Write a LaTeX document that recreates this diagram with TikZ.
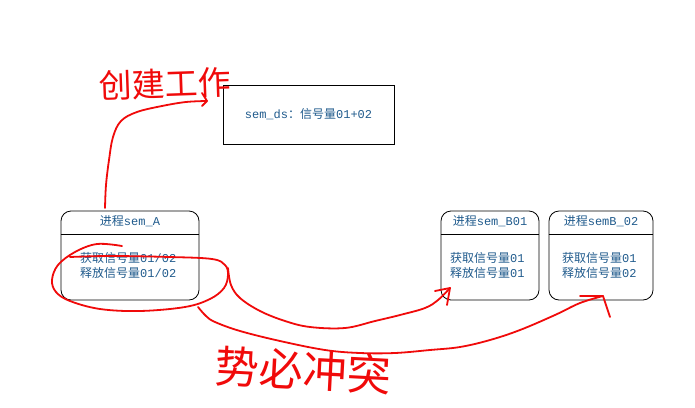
\documentclass[tikz,border=0pt]{standalone}
\usepackage{fontspec}
\setmainfont{Liberation Mono}
\newfontfamily\cjk{Noto Sans CJK SC}
\definecolor{txtblue}{RGB}{31,90,140}
\definecolor{pen}{RGB}{240,10,10}

\begin{document}
\begin{tikzpicture}[x=1pt,y=-1pt,
  procbox/.style={draw,line width=0.8pt,rounded corners=10pt,inner sep=0pt,minimum height=89pt},
  label/.style={text=txtblue,font=\fontsize{12}{15}\selectfont,inner sep=0pt},
  scribble/.style={draw=pen,line width=1.8pt,line cap=round,line join=round},
  handtext/.style={text=pen,inner sep=0pt}]
\useasboundingbox (0,0) rectangle (695,407);
\node[draw,line width=0.8pt,inner sep=0pt,minimum width=171pt,minimum height=59pt] (ds) at (308.5,114.5) {};
\node[label] (dstext) at (ds.center) {sem\_ds{\cjk ：信号量}01+02};
\node[procbox,minimum width=138pt] (semA) at (130,255.5) {};
\node[procbox,minimum width=98pt] (semB1) at (490,255.5) {};
\node[procbox,minimum width=104pt] (semB2) at (601,255.5) {};
\draw[line width=0.8pt] (semA.west |- 0,234) -- (semA.east |- 0,234);
\draw[line width=0.8pt] (semB1.west |- 0,234) -- (semB1.east |- 0,234);
\draw[line width=0.8pt] (semB2.west |- 0,234) -- (semB2.east |- 0,234);
\node[label] (titleA) at (130,221) {{\cjk 进程}sem\_A};
\node[label] (titleB1) at (490,221) {{\cjk 进程}sem\_B01};
\node[label] (titleB2) at (601,221) {{\cjk 进程}semB\_02};
\node[label,anchor=west,align=left] (bodyA) at (80,265.5) {{\cjk 获取信号量}01/02\\{\cjk 释放信号量}01/02};
\node[label,anchor=west,align=left] (bodyB1) at (450,265.5) {{\cjk 获取信号量}01\\{\cjk 释放信号量}01};
\node[label,anchor=west,align=left] (bodyB2) at (562,265.5) {{\cjk 获取信号量}01\\{\cjk 释放信号量}02};
\node[handtext,font=\cjk\fontsize{33}{33}\selectfont,rotate=2] (create) at (165,84) {创建工作};
\node[handtext,font=\cjk\fontsize{44}{44}\selectfont,rotate=-3] (clash) at (303,370) {势必冲突};
\coordinate (upstart) at (105,208);
\coordinate (uptip) at (207,101);
\draw[scribble] plot[smooth,tension=0.6] coordinates {(upstart) (106,185) (109,160) (113,137) (121,121) (137,112) (162,106) (186,102) (uptip)};
\draw[scribble] (202,93) -- (uptip) -- (202,106);
\draw[scribble] plot[smooth,tension=0.6] coordinates {(122,246) (97,244) (75,252) (58,265) (52,280) (56,292) (70,301) (100,309) (140,311) (185,307) (210,299) (224,288) (228,275) (225,265) (212,259) (170,257) (110,256) (70,257)};
\coordinate (tipB1) at (450,288);
\draw[scribble] plot[smooth,tension=0.6] coordinates {(228,268) (231,285) (240,298) (260,311) (285,321) (310,327) (345,328) (375,321) (400,315) (425,308) (438,300) (tipB1)};
\draw[scribble] (435,291) -- (tipB1) -- (447,305);
\coordinate (tipB2) at (603,296);
\draw[scribble] plot[smooth,tension=0.6] coordinates {(198,307) (206,316) (215,322) (240,331) (280,341) (325,350) (360,353) (395,353) (430,350) (460,347) (490,340) (520,330) (555,315) (580,303) (tipB2)};
\draw[scribble] (580,296) -- (tipB2) -- (610,317);
\end{tikzpicture}
\end{document}
